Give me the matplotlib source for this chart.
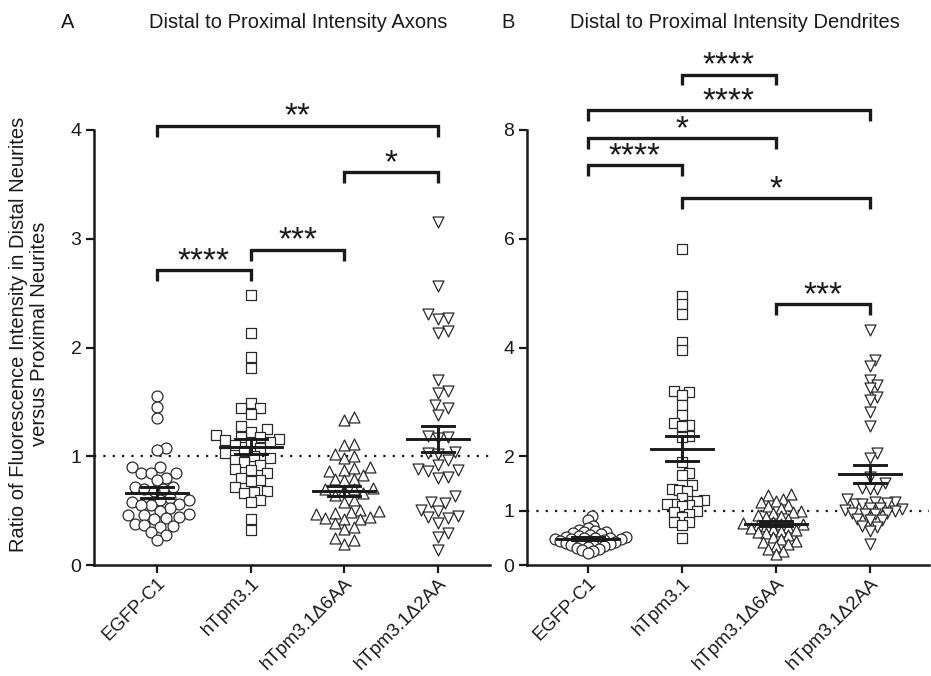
import numpy as np
import matplotlib
matplotlib.use("Agg")
import matplotlib.pyplot as plt

plt.rcParams['font.family'] = ['Liberation Sans', 'DejaVu Sans']

groups = ['EGFP-C1', 'hTpm3.1', 'hTpm3.1\u03946AA', 'hTpm3.1\u03942AA']
markers = ['o', 's', '^', 'v']

# panel A - axons
axon_egfp = [1.55, 1.45, 1.35, 1.08, 1.06, 0.90, 0.90, 0.85, 0.85, 0.85, 0.80, 0.78, 0.72,
             0.72, 0.70, 0.70, 0.68, 0.62, 0.60, 0.60, 0.58, 0.56, 0.55, 0.55, 0.52, 0.50,
             0.47, 0.46, 0.46, 0.44, 0.43, 0.42, 0.38, 0.37, 0.36, 0.35, 0.30, 0.28, 0.23]
axon_tpm = [2.48, 2.13, 1.91, 1.81, 1.49, 1.44, 1.44, 1.39, 1.28, 1.25, 1.22, 1.20, 1.18,
            1.18, 1.16, 1.15, 1.13, 1.12, 1.10, 1.08, 1.05, 1.03, 1.00, 0.98, 0.97, 0.95,
            0.92, 0.88, 0.87, 0.85, 0.80, 0.78, 0.77, 0.72, 0.68, 0.67, 0.66, 0.60, 0.58,
            0.42, 0.32]
axon_d6 = [1.36, 1.33, 1.11, 1.10, 1.02, 1.00, 0.98, 0.90, 0.89, 0.87, 0.86, 0.83, 0.79,
           0.79, 0.78, 0.71, 0.70, 0.70, 0.69, 0.66, 0.64, 0.60, 0.58, 0.51, 0.50, 0.49,
           0.48, 0.47, 0.44, 0.43, 0.42, 0.42, 0.39, 0.35, 0.33, 0.25, 0.23, 0.19]
axon_d2 = [3.15, 2.57, 2.31, 2.27, 2.26, 2.15, 2.13, 1.70, 1.60, 1.58, 1.47, 1.44, 1.38,
           1.19, 1.18, 1.17, 1.04, 1.03, 1.02, 0.97, 0.92, 0.88, 0.87, 0.86, 0.81, 0.80,
           0.63, 0.58, 0.57, 0.51, 0.50, 0.45, 0.44, 0.43, 0.39, 0.29, 0.26, 0.14]

# panel B - dendrites
dend_egfp = [0.90, 0.82, 0.72, 0.68, 0.65, 0.62, 0.60, 0.60, 0.58, 0.57, 0.55, 0.54, 0.52,
             0.52, 0.50, 0.50, 0.49, 0.48, 0.48, 0.47, 0.46, 0.45, 0.44, 0.43, 0.42, 0.41,
             0.40, 0.39, 0.38, 0.37, 0.36, 0.35, 0.34, 0.32, 0.30, 0.28, 0.25, 0.22]
dend_tpm = [5.81, 4.95, 4.80, 4.61, 4.10, 3.95, 3.19, 3.20, 3.12, 2.95, 2.75, 2.62, 2.58,
            2.55, 2.37, 2.35, 1.90, 1.70, 1.65, 1.47, 1.40, 1.38, 1.36, 1.23, 1.20, 1.18,
            1.12, 1.12, 1.10, 1.08, 1.00, 0.98, 0.93, 0.89, 0.80, 0.79, 0.74, 0.49]
dend_d6 = [1.30, 1.28, 1.22, 1.18, 1.15, 1.10, 1.08, 1.05, 1.00, 0.98, 0.95, 0.92, 0.90,
           0.88, 0.85, 0.80, 0.78, 0.76, 0.75, 0.74, 0.72, 0.70, 0.68, 0.66, 0.65, 0.62,
           0.60, 0.58, 0.55, 0.52, 0.48, 0.45, 0.42, 0.38, 0.35, 0.30, 0.25, 0.20]
dend_d2 = [4.32, 3.77, 3.66, 3.41, 3.31, 3.25, 3.09, 3.03, 2.82, 2.55, 2.06, 1.96, 1.62,
           1.50, 1.42, 1.40, 1.40, 1.22, 1.16, 1.15, 1.14, 1.13, 1.12, 1.05, 1.04, 1.03,
           1.02, 1.00, 0.96, 0.95, 0.94, 0.93, 0.85, 0.83, 0.82, 0.72, 0.70, 0.62, 0.38]

# significance brackets: (group i, group j), bar height, label
axon_pairs = [(0, 3), (2, 3), (1, 2), (0, 1)]
axon_bar_y = [4.04, 3.61, 2.90, 2.71]
axon_stars = ['**', '*', '***', '****']

dend_pairs = [(1, 2), (0, 3), (0, 2), (0, 1), (1, 3), (2, 3)]
dend_bar_y = [9.02, 8.36, 7.85, 7.35, 6.75, 4.80]
dend_stars = ['****', '****', '*', '****', '*', '***']

INK = '#1a1a1a'


def swarm_x(ax, xc, vals, diam):
    """greedy beeswarm in pixel space, returns x positions in data units"""
    vals = np.asarray(vals)
    pix = ax.transData.transform(np.column_stack([np.full(len(vals), xc), vals]))
    ypix = pix[:, 1]
    px_per_unit = ax.transData.transform((xc + 1, 0))[0] - ax.transData.transform((xc, 0))[0]
    step = diam / 3
    placed = []
    xoff = np.zeros(len(vals))
    for i in np.argsort(ypix):
        y = ypix[i]
        found = None
        k = 0
        while found is None:
            cands = [0.0] if k == 0 else [k * step, -k * step]
            for c in cands:
                if all((c - qx) ** 2 + (y - qy) ** 2 >= diam ** 2 for qx, qy in placed):
                    found = c
                    break
            k += 1
        placed.append((found, y))
        xoff[i] = found
    return xc + xoff / px_per_unit


def draw_panel(ax, data, diams, pairs, bar_y, stars, leg):
    for i, vals in enumerate(data):
        xs = swarm_x(ax, i, vals, diams[i])
        ax.scatter(xs, vals, s=62, marker=markers[i], facecolor='white',
                   edgecolor='#2a2a2a', linewidth=0.9, zorder=3)
        m = np.mean(vals)
        sem = np.std(vals, ddof=1) / np.sqrt(len(vals))
        ax.plot([i - 0.33, i + 0.33], [m, m], color=INK, lw=2.1, zorder=4)
        ax.plot([i - 0.17, i + 0.17], [m + sem, m + sem], color=INK, lw=2.1, zorder=4)
        ax.plot([i - 0.17, i + 0.17], [m - sem, m - sem], color=INK, lw=2.1, zorder=4)
        ax.plot([i, i], [m - sem, m + sem], color=INK, lw=2.1, zorder=4)
    ax.axhline(1, color=INK, lw=1.6, linestyle=(0, (1, 3.2)), zorder=2)
    for (a, b), y, s in zip(pairs, bar_y, stars):
        ax.plot([a, a, b, b], [y - leg, y, y, y - leg], color=INK, lw=2.4,
                clip_on=False, solid_joinstyle='miter', solid_capstyle='butt')
        ax.annotate(s, xy=((a + b) / 2, y), xytext=(0, -5), textcoords='offset points',
                    ha='center', va='bottom', fontsize=24, color=INK, annotation_clip=False)
    ax.set_xticks(range(4))
    ax.set_xticklabels(groups, rotation=45, ha='right', rotation_mode='anchor')
    for side in ['top', 'right']:
        ax.spines[side].set_visible(False)
    for side in ['left', 'bottom']:
        ax.spines[side].set_linewidth(1.8)
        ax.spines[side].set_color(INK)
    ax.tick_params(direction='out', length=6, width=1.6, labelsize=14, colors=INK, pad=3)
    ax.tick_params(axis='x', labelsize=13.5, pad=1)


fig = plt.figure(figsize=(9.31, 6.76), dpi=100)
W, H = 931, 676
axA = fig.add_axes([94 / W, 1 - 565 / H, (490 - 94) / W, (565 - 130) / H])
axB = fig.add_axes([527 / W, 1 - 565 / H, (929 - 527) / W, (565 - 130) / H])

axA.set_xlim(-0.672, 3.554)
axA.set_ylim(0, 4)
axA.set_yticks([0, 1, 2, 3, 4])
axB.set_xlim(-0.649, 3.63)
axB.set_ylim(0, 8)
axB.set_yticks([0, 1, 2, 4, 6, 8])

draw_panel(axA, [axon_egfp, axon_tpm, axon_d6, axon_d2], [9.5, 9.5, 9.5, 10],
           axon_pairs, axon_bar_y, axon_stars, 0.1)
draw_panel(axB, [dend_egfp, dend_tpm, dend_d6, dend_d2], [5.5, 7.5, 7.5, 7.5],
           dend_pairs, dend_bar_y, dend_stars, 0.2)

fig.text(68 / W, 1 - 22 / H, 'A', fontsize=14.5, ha='center', va='center', color=INK)
fig.text(298 / W, 1 - 22 / H, 'Distal to Proximal Intensity Axons', fontsize=14.5,
         ha='center', va='center', color=INK)
fig.text(508 / W, 1 - 22 / H, 'B', fontsize=14.5, ha='center', va='center', color=INK)
fig.text(735 / W, 1 - 22 / H, 'Distal to Proximal Intensity Dendrites', fontsize=14.5,
         ha='center', va='center', color=INK)
fig.text(29 / W, 1 - 334 / H,
         'Ratio of Fluorescence Intensity in Distal Neurites\nversus Proximal Neurites',
         rotation=90, fontsize=14.5, ha='center', va='center', multialignment='center',
         color=INK, linespacing=1.15)

fig.savefig('out.png', dpi=100)
